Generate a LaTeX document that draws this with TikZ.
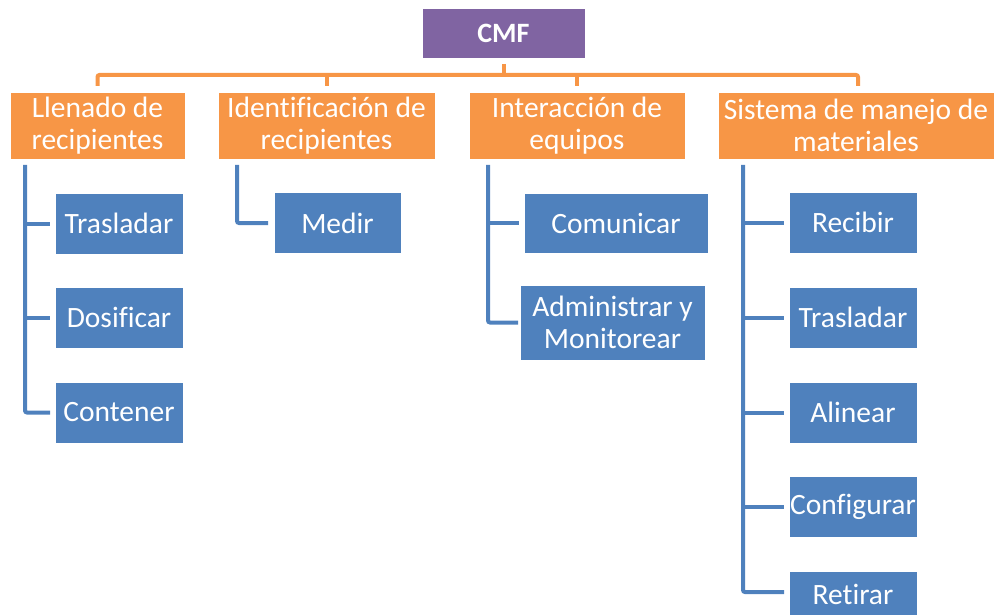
\documentclass[tikz,border=0pt]{standalone}
\usepackage{fontspec}
\setmainfont[Ligatures=NoCommon]{Carlito}
\usetikzlibrary{calc}
\definecolor{cmfpurple}{HTML}{8064A2}
\definecolor{offorange}{HTML}{F79646}
\definecolor{offblue}{HTML}{4F81BD}
\tikzset{
  box/.style={draw=white, line width=0.8pt, text=white, align=center, inner sep=0pt, outer sep=0pt,
    font=\fontsize{29.5}{31.5}\selectfont},
  topbox/.style={box, fill=cmfpurple, minimum width=163pt, minimum height=50pt,
    font=\bfseries\fontsize{28}{30}\selectfont},
  catbox/.style={box, fill=offorange, minimum height=67pt},
  leafbox/.style={box, fill=offblue, minimum width=128pt, minimum height=61pt},
  orangeline/.style={draw=offorange, line width=4pt, rounded corners=2pt},
  blueline/.style={draw=offblue, line width=4pt, rounded corners=2pt},
}
\begin{document}
\begin{tikzpicture}[x=1pt, y=-1pt]
\useasboundingbox (0,0) rectangle (994,615);
\clip (0,0) rectangle (994,615);
% top
\node[topbox] (cmf) at (503.5,33) {CMF};
% categories
\node[catbox, minimum width=175pt] (o1) at (97.5,125.5) {Llenado de\\recipientes};
\node[catbox, minimum width=217pt] (o2) at (326.5,125.5) {Identificación de\\recipientes};
\node[catbox, minimum width=216pt] (o3) at (577,125.5) {Interacción de\\equipos};
\node[catbox, minimum width=276pt] (o4) at (856,125.5) {Sistema de manejo de\\materiales};
% leaves
\node[leafbox] (b11) at (119,223.5) {Trasladar};
\node[leafbox] (b12) at (119,317.5) {Dosificar};
\node[leafbox] (b13) at (119,412.5) {Contener};
\node[leafbox, minimum width=127pt] (b21) at (337.5,223) {Medir};
\node[leafbox, minimum width=184pt, minimum height=60pt] (b31) at (616,223) {Comunicar};
\node[leafbox, minimum width=185pt, minimum height=75pt] (b32) at (612.5,322.5) {Administrar y\\Monitorear};
\node[leafbox] (b41) at (853,222.5) {Recibir};
\node[leafbox] (b42) at (853,317.5) {Trasladar};
\node[leafbox] (b43) at (853,412.5) {Alinear};
\node[leafbox] (b44) at (853,506.5) {Configurar};
\node[leafbox, minimum height=46pt] (b45) at (853,594) {Retirar};
% orange connectors
\coordinate (busl) at ($(o1.north)+(0,-17)$);
\coordinate (busr) at ($(o4.north)+(2,-17)$);
\draw[orangeline] ($(cmf.south)+(0,6)$) -- (cmf.south |- busl);
\draw[orangeline] ($(o1.north)+(0,-6)$) -- (busl) -- (busr) -- ($(o4.north)+(2,-6)$);
\draw[orangeline] ($(o2.north)+(0,-6)$) -- (o2.north |- busl);
\draw[orangeline] ($(o3.north)+(0,-6)$) -- (o3.north |- busl);
% blue connectors
\coordinate (v1) at ($(o1.south west)+(15,6)$);
\coordinate (v2) at ($(o2.south west)+(19,6)$);
\coordinate (v3) at ($(o3.south west)+(19,6)$);
\coordinate (v4) at ($(o4.south west)+(25,6)$);
\draw[blueline] (v1) |- ($(b13.west)+(-5,0)$);
\draw[blueline] (b11.west -| v1) -- ($(b11.west)+(-5,0)$);
\draw[blueline] (b12.west -| v1) -- ($(b12.west)+(-5,0)$);
\draw[blueline] (v2) |- ($(b21.west)+(-6,0)$);
\draw[blueline] (v3) |- ($(b32.west)+(-2,0)$);
\draw[blueline] (b31.west -| v3) -- ($(b31.west)+(-5,0)$);
\draw[blueline] (v4) |- ($(b45.west)+(-5,-2)$);
\draw[blueline] (b41.west -| v4) -- ($(b41.west)+(-5,0)$);
\draw[blueline] (b42.west -| v4) -- ($(b42.west)+(-5,0)$);
\draw[blueline] (b43.west -| v4) -- ($(b43.west)+(-5,0)$);
\draw[blueline] (b44.west -| v4) -- ($(b44.west)+(-5,0)$);
\end{tikzpicture}
\end{document}
